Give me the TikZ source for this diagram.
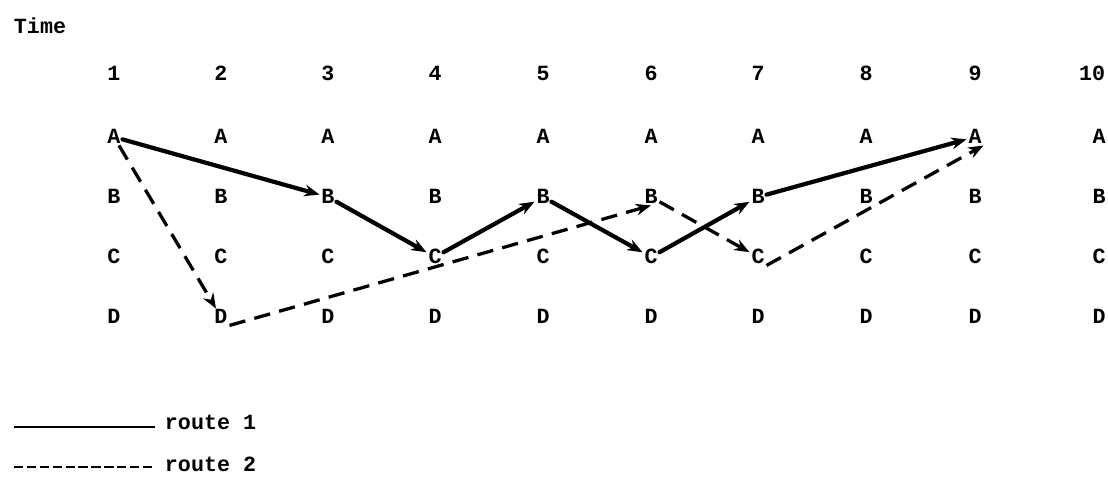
\documentclass[tikz,border=0pt]{standalone}
\usepackage{fontspec}
\setmonofont{Liberation Mono}
\usetikzlibrary{arrows.meta}
\begin{document}
\begin{tikzpicture}[x=0.03cm,y=-0.03cm,
  lbl/.style={font=\fontsize{18.5}{20}\selectfont\ttfamily\bfseries, inner sep=1.5pt, text height=11pt, text depth=0pt},
  r1/.style={line width=3.6pt, -{Stealth[length=13pt,width=10pt]}, line cap=round},
  r2/.style={line width=2.8pt, dash pattern=on 14pt off 8pt, -{Stealth[length=13pt,width=10pt]}},
  leg1/.style={line width=2pt},
  leg2/.style={line width=2.4pt, dash pattern=on 8pt off 3pt}]
\useasboundingbox (0,0) rectangle (1108,479);
\node[lbl, anchor=west] (time) at (12,27) {Time};
\foreach \i/\x in {1/114,2/221,3/328,4/435,5/543,6/651,7/758,8/866,9/975} {
  \node[lbl] (n\i) at (\x,74) {\i};
}
\node[lbl] (n10) at (1092,74) {10};
\foreach \i/\x in {1/114,2/221,3/328,4/435,5/543,6/651,7/758,8/866,9/975,10/1099} {
  \node[lbl] (a\i) at (\x,137) {A};
  \node[lbl] (b\i) at (\x,197) {B};
  \node[lbl] (c\i) at (\x,257) {C};
  \node[lbl] (d\i) at (\x,317) {D};
}
% route 1
\draw[r1] (a1) -- (b3);
\draw[r1] (b3) -- (c4);
\draw[r1] (c4) -- (b5);
\draw[r1] (b5) -- (c6);
\draw[r1] (c6) -- (b7);
\draw[r1] (b7) -- (a9);
% route 2
\draw[r2] (a1) -- (d2);
\draw[r2] (d2.south east) -- (b6.south);
\draw[r2] (b6) -- (c7);
\draw[r2] (c7.south east) -- (a9.south east);
% legend
\coordinate (l1a) at (14,427);
\coordinate (l1b) at (155,427);
\coordinate (l2a) at (14,467);
\coordinate (l2b) at (155,467);
\draw[leg1] (l1a) -- (l1b);
\draw[leg2] (l2a) -- (l2b);
\node[lbl, anchor=west] (rt1) at (163,423) {route 1};
\node[lbl, anchor=west] (rt2) at (163,465) {route 2};
\end{tikzpicture}
\end{document}
